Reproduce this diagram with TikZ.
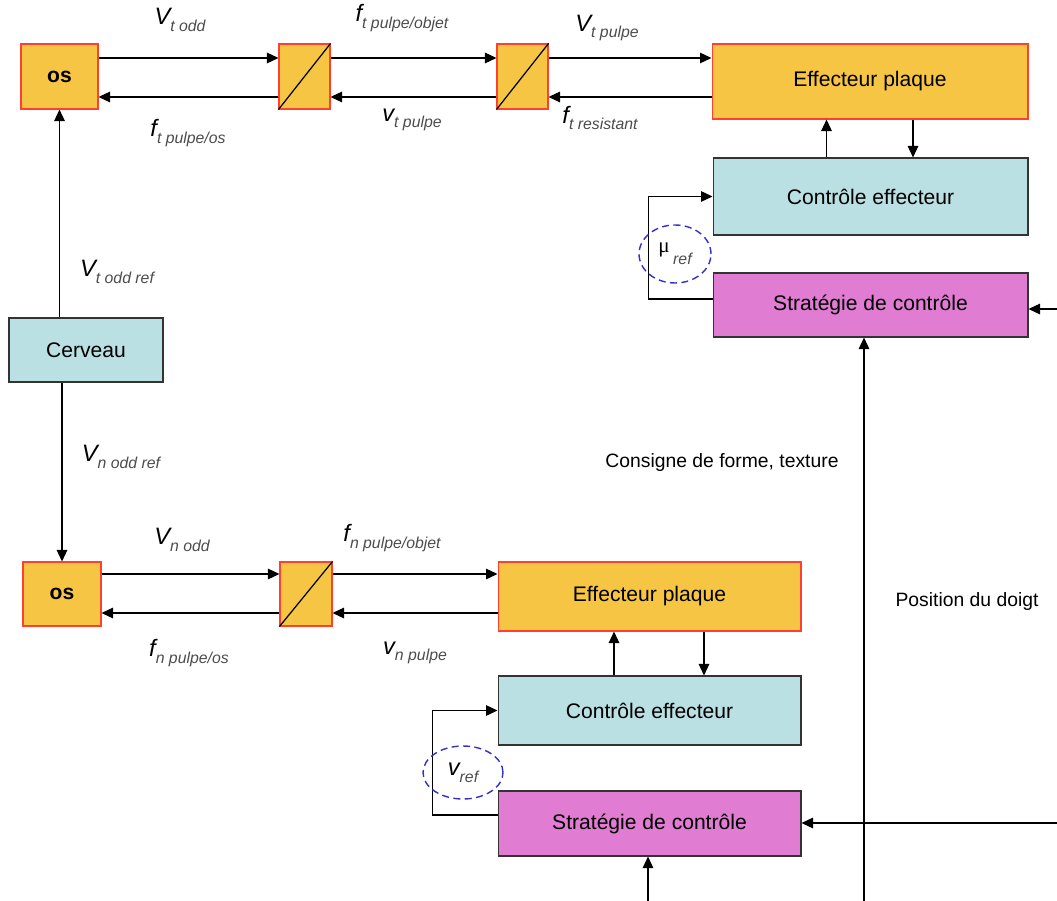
\documentclass[tikz,border=0pt]{standalone}
\usepackage{fontspec}
\setmainfont{Liberation Sans}
\newfontfamily\symfont{Liberation Serif}
\usepackage{tikz}
\usetikzlibrary{arrows.meta,shapes.geometric}

\definecolor{orangebox}{RGB}{246,197,68}
\definecolor{redline}{RGB}{255,64,48}
\definecolor{cyanbox}{RGB}{186,224,228}
\definecolor{pinkbox}{RGB}{224,124,210}
\definecolor{dashblue}{RGB}{50,50,200}

% signal name: big italic letter, small italic index
\newcommand{\sig}[2]{{\itshape\fontsize{13.5}{14}\selectfont #1}{\itshape\fontsize{9}{10}\selectfont\color{black!70}\raisebox{-0.8ex}{#2}}}

\tikzset{
  bloc/.style={draw=redline, fill=orangebox, line width=0.6pt, inner sep=0pt},
  ctl/.style={draw=black!80, fill=cyanbox, line width=0.6pt, inner sep=0pt},
  strat/.style={draw=black!80, fill=pinkbox, line width=0.6pt, inner sep=0pt},
  refbulle/.style={draw=dashblue, dash pattern=on 4pt off 2.5pt, line width=0.8pt, ellipse, inner sep=0pt},
  lbl/.style={inner sep=0pt},
  fl/.style={-{Triangle[length=2.3mm,width=2.1mm]}, line width=0.75pt}
}

\begin{document}
\begin{tikzpicture}[x=0.02cm, y=-0.02cm, font=\fontsize{12}{14}\selectfont]
\useasboundingbox (0,0) rectangle (1057,901);

% tangential chain
\node[bloc, minimum width=1.54cm, minimum height=1.3cm, font=\fontsize{12}{14}\selectfont\bfseries] (osT) at (59.5,76.5) {os};
\node[bloc, minimum width=1.02cm, minimum height=1.3cm] (cvT1) at (304.5,76.5) {};
\node[bloc, minimum width=1.02cm, minimum height=1.3cm] (cvT2) at (522.5,76.5) {};
\node[bloc, minimum width=6.32cm, minimum height=1.5cm] (effT) at (870,81.5) {Effecteur plaque};
\node[ctl, minimum width=6.3cm, minimum height=1.54cm] (ctlT) at (870.5,196.5) {Contrôle effecteur};
\node[strat, minimum width=6.3cm, minimum height=1.28cm] (strT) at (870.5,305) {Stratégie de contrôle};

\node[ctl, minimum width=3.08cm, minimum height=1.28cm] (cerveau) at (86,350) {Cerveau};

% normal chain
\node[bloc, minimum width=1.56cm, minimum height=1.28cm, font=\fontsize{12}{14}\selectfont\bfseries] (osB) at (62,594) {os};
\node[bloc, minimum width=1.04cm, minimum height=1.28cm] (cvB) at (306,594) {};
\node[bloc, minimum width=6.06cm, minimum height=1.38cm] (effB) at (649.5,596.5) {Effecteur plaque};
\node[ctl, minimum width=6.06cm, minimum height=1.38cm] (ctlB) at (649.5,710.5) {Contrôle effecteur};
\node[strat, minimum width=6.06cm, minimum height=1.3cm] (strB) at (649.5,823.5) {Stratégie de contrôle};

\foreach \c in {cvT1,cvT2,cvB}
  \draw[line width=0.7pt] (\c.south west) -- (\c.north east);

% forward and backward flows
\draw[fl] ([yshift=0.37cm]osT.east) -- ([yshift=0.37cm]cvT1.west);
\draw[fl] ([yshift=0.37cm]cvT1.east) -- ([yshift=0.37cm]cvT2.west);
\draw[fl] ([yshift=0.37cm]cvT2.east) -- ([yshift=0.37cm]cvT2.east -| effT.west);
\draw[fl] ([yshift=-0.41cm]cvT1.west) -- ([yshift=-0.41cm]osT.east);
\draw[fl] ([yshift=-0.41cm]cvT2.west) -- ([yshift=-0.41cm]cvT1.east);
\draw[fl] ([yshift=-0.41cm]cvT2.east -| effT.west) -- ([yshift=-0.41cm]cvT2.east);

\draw[fl] ([yshift=0.4cm]osB.east) -- ([yshift=0.4cm]cvB.west);
\draw[fl] ([yshift=0.4cm]cvB.east) -- ([yshift=0.4cm]cvB.east -| effB.west);
\draw[fl] ([yshift=-0.38cm]cvB.west) -- ([yshift=-0.38cm]osB.east);
\draw[fl] ([yshift=-0.38cm]cvB.east -| effB.west) -- ([yshift=-0.38cm]cvB.east);

\draw[fl] (osT.south |- cerveau.north) -- (osT.south);
\draw[fl] (osB.north |- cerveau.south) -- (osB.north);

% effector loops
\draw[fl] ([xshift=-0.88cm]ctlT.north) -- ([xshift=-0.88cm]ctlT.north |- effT.south);
\draw[fl] ([xshift=0.86cm]effT.south) -- ([xshift=0.86cm]effT.south |- ctlT.north);
\draw[fl] ([xshift=-0.71cm]ctlB.north) -- ([xshift=-0.71cm]ctlB.north |- effB.south);
\draw[fl] ([xshift=1.09cm]effB.south) -- ([xshift=1.09cm]effB.south |- ctlB.north);

\draw[fl] ([yshift=0.12cm]strT.west) -- ++(-1.28cm,0) |- (ctlT.west);
\draw[fl] ([yshift=0.17cm]strB.west) -- ++(-1.3cm,0) |- (ctlB.west);

\node[refbulle, minimum width=1.44cm, minimum height=1.16cm] (muref) at (675,254)
  {{\symfont\fontsize{12}{12}\selectfont\raisebox{0.5ex}{μ}}\,{\itshape\fontsize{9}{10}\selectfont\color{black!70}\raisebox{-0.8ex}{ref}}};
\node[refbulle, minimum width=1.6cm, minimum height=1.06cm] (vref) at (463,772.5) {\sig{v}{ref}};

% external inputs
\coordinate (inT) at (1057,309);
\coordinate (inB) at (1057,823);
\coordinate (posB) at (864,901);
\coordinate (forB) at (648,901);
\draw[fl] (inT) -- (inT -| strT.east);
\draw[fl] (inB) -- (inB -| strB.east);
\draw[fl] (posB) -- (posB |- strT.south);
\draw[fl] (forB) -- (forB |- strB.south);

\node[lbl, font=\fontsize{11}{13}\selectfont] (consigne) at (722,463) {Consigne de forme, texture};
\node[lbl, font=\fontsize{11}{13}\selectfont] (position) at (967,602) {Position du doigt};

% signal names
\node[lbl] (lVtodd) at (180,20) {\sig{V}{t odd}};
\node[lbl] (lftobj) at (402,18) {\sig{f}{t pulpe/objet}};
\node[lbl] (lVtpul) at (607,28) {\sig{V}{t pulpe}};
\node[lbl] (lvtpul) at (412,120) {\sig{v}{t pulpe}};
\node[lbl] (lftres) at (600,118) {\sig{f}{t resistant}};
\node[lbl] (lftos) at (188,133) {\sig{f}{t pulpe/os}};
\node[lbl] (lVtref) at (117,272) {\sig{V}{t odd ref}};
\node[lbl] (lVnref) at (121,457) {\sig{V}{n odd ref}};
\node[lbl] (lVnodd) at (182,540) {\sig{V}{n odd}};
\node[lbl] (lfnobj) at (392,538) {\sig{f}{n pulpe/objet}};
\node[lbl] (lfnos) at (189,653) {\sig{f}{n pulpe/os}};
\node[lbl] (lvnpul) at (415,653) {\sig{v}{n pulpe}};
\end{tikzpicture}
\end{document}
